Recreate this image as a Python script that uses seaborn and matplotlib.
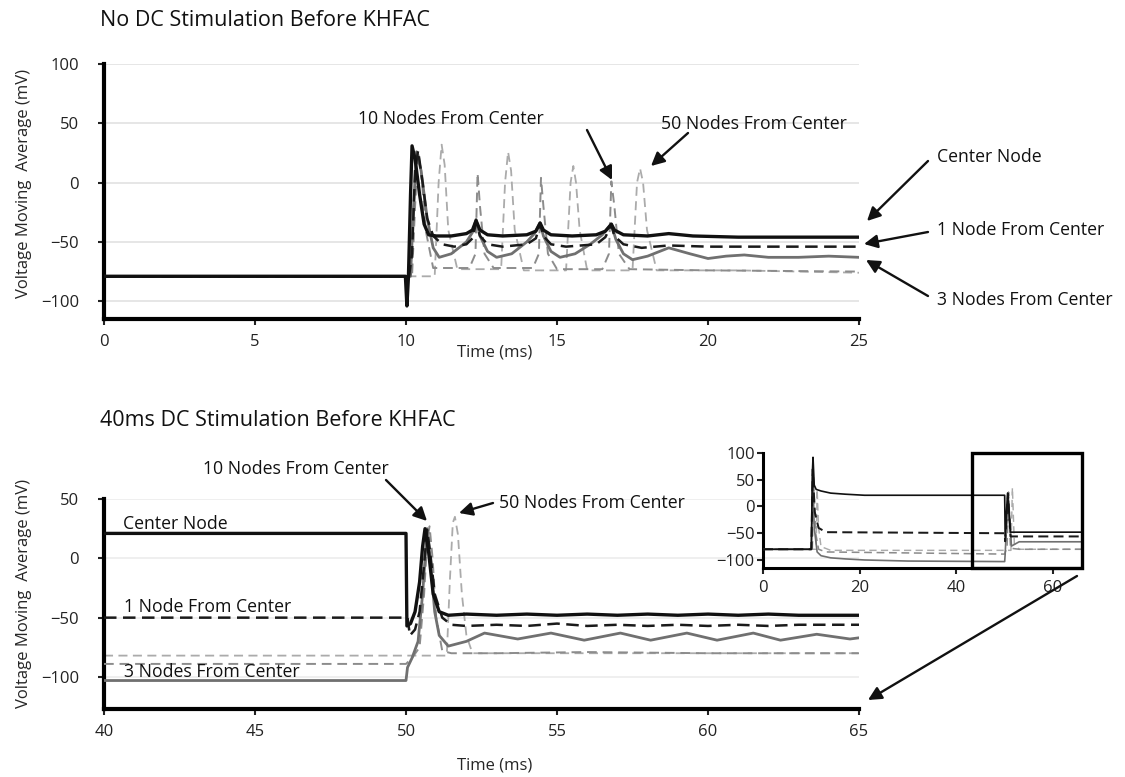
import numpy as np
import pandas as pd
import matplotlib
matplotlib.use("Agg")
import matplotlib.pyplot as plt
import seaborn as sns
from matplotlib.patches import Rectangle, FancyArrowPatch

# ---------------- data ----------------
# Top panel: no DC stimulation before KHFAC
center_t = [0, 9.98, 10.03, 10.08, 10.15, 10.2, 10.3, 10.45, 10.6, 10.75, 11.0, 11.5, 12.0, 12.2, 12.32, 12.45, 12.7, 13.2, 14.0, 14.3, 14.44, 14.55, 14.8, 15.5, 16.3, 16.6, 16.8, 16.9, 17.2, 18.0, 18.7, 19.5, 21, 23, 25]
center_v = [-79, -79, -104, -80, -10, 31, 20, -10, -35, -44, -45, -45, -43, -40, -32, -40, -44, -45, -44, -41, -34, -40, -44, -45, -44, -41, -35, -40, -44, -45, -43, -45, -46, -46, -46]

one_t = [0, 10.1, 10.2, 10.3, 10.4, 10.55, 10.7, 10.9, 11.2, 11.6, 12.0, 12.2, 12.32, 12.45, 12.7, 13.2, 14.0, 14.3, 14.44, 14.55, 14.8, 15.3, 16.3, 16.6, 16.8, 16.9, 17.2, 17.8, 18.7, 20, 22, 25]
one_v = [-79, -79, -60, 10, 27, 0, -30, -45, -52, -54, -52, -47, -34, -45, -52, -54, -52, -47, -35, -45, -52, -54, -52, -46, -36, -45, -52, -55, -53, -54, -54, -54]

three_t = [0, 10.15, 10.25, 10.35, 10.5, 10.7, 10.9, 11.1, 11.5, 12.0, 12.2, 12.32, 12.45, 12.7, 13.0, 13.5, 14.0, 14.25, 14.44, 14.55, 14.8, 15.1, 15.6, 16.1, 16.5, 16.8, 16.95, 17.2, 17.5, 18.0, 18.7, 19.4, 20.0, 20.6, 21.2, 22.0, 23.0, 24.0, 25]
three_v = [-79, -79, -20, 26, 10, -30, -55, -63, -60, -50, -42, -31, -45, -58, -63, -60, -50, -43, -34, -45, -58, -63, -60, -52, -44, -35, -48, -60, -65, -62, -55, -60, -64, -62, -61, -63, -63, -62, -63]

ten_t = [0, 10.2, 10.3, 10.4, 10.5, 10.65, 10.9, 12.1, 12.3, 12.37, 12.45, 12.6, 12.9, 14.2, 14.4, 14.47, 14.55, 14.7, 15.0, 16.5, 16.72, 16.8, 16.9, 17.05, 17.4, 20, 25]
ten_v = [-79, -79, -20, 26, 10, -40, -72, -72, -60, 8, -20, -60, -72, -72, -60, 4, -20, -60, -73, -73, -60, 1, -20, -60, -73, -74, -75]

fifty_t = [0, 10.95, 11.08, 11.18, 11.28, 11.4, 11.7, 13.15, 13.28, 13.38, 13.48, 13.6, 13.9, 15.3, 15.45, 15.54, 15.63, 15.75, 16.0, 17.5, 17.65, 17.75, 17.85, 17.98, 18.3, 21, 25]
fifty_v = [-79, -79, 0, 32, 15, -40, -73, -73, 0, 26, 10, -40, -74, -74, 0, 14, 0, -40, -74, -74, 0, 12, 0, -40, -74, -74, -76]

# Bottom panel: 40 ms DC stimulation before KHFAC
b_center_t = [40, 50.0, 50.03, 50.15, 50.3, 50.45, 50.55, 50.63, 50.75, 50.9, 51.1, 51.4, 52, 53, 54, 55, 56, 57, 58, 59, 60, 61, 62, 63, 64, 65]
b_center_v = [21, 21, -57, -55, -45, -20, 10, 25, 5, -30, -45, -48, -47, -48, -47, -48, -47, -48, -47, -48, -47, -48, -47, -48, -48, -48]

b_one_t = [40, 50.05, 50.13, 50.3, 50.45, 50.6, 50.7, 50.8, 50.95, 51.2, 51.5, 52, 53, 54, 55, 56, 57, 58, 59, 60, 61, 62, 63, 64, 65]
b_one_v = [-50, -50, -65, -60, -45, -5, 24, 5, -30, -50, -56, -57, -56, -57, -55, -57, -56, -57, -56, -57, -56, -57, -56, -56, -56]

b_three_t = [40, 50.0, 50.05, 50.2, 50.4, 50.55, 50.7, 50.8, 50.95, 51.1, 51.4, 52.0, 52.6, 53.15, 53.7, 54.25, 54.8, 55.35, 55.9, 56.5, 57.1, 57.6, 58.1, 58.7, 59.3, 59.8, 60.3, 60.9, 61.5, 61.95, 62.4, 63.0, 63.6, 64.15, 64.7, 65]
b_three_v = [-103, -103, -92, -84, -70, -30, 25, 0, -45, -65, -74, -70, -63, -65.5, -68, -65.5, -63, -66, -69, -66, -63, -66, -69, -66, -63, -66, -69, -66, -63, -66, -69, -66.5, -64, -66, -68, -67]

b_ten_t = [40, 50.0, 50.2, 50.45, 50.6, 50.7, 50.78, 50.88, 51.0, 51.2, 51.5, 53, 56, 60, 65]
b_ten_v = [-89, -89, -84, -75, -30, 15, 27, 0, -50, -78, -80, -80, -79, -80, -80]

b_fifty_t = [40, 51.35, 51.45, 51.55, 51.62, 51.72, 51.85, 52.0, 52.2, 55, 60, 65]
b_fifty_v = [-82, -82, -20, 30, 35, 20, -30, -65, -80, -80, -80, -80]

# Inset: full 0-66 ms trace of the DC case
i_center_t = [0, 10, 10.2, 10.35, 10.6, 11, 12, 14, 17, 21, 50, 50.1, 50.6, 51.2, 53, 66]
i_center_v = [-80, -80, 60, 92, 40, 32, 29, 25, 23, 21, 21, -55, 25, -48, -48, -48]
i_one_t = [0, 10, 10.3, 10.7, 11.5, 13, 50, 50.1, 50.7, 51.2, 53, 66]
i_one_v = [-80, -80, 70, -10, -40, -48, -50, -65, 24, -56, -56, -56]
i_three_t = [0, 10, 10.3, 10.6, 11.2, 12, 14, 17, 21, 30, 50, 50.1, 50.7, 51.4, 53, 66]
i_three_v = [-80, -80, 60, -40, -85, -92, -96, -98, -100, -102, -103, -90, 25, -74, -66, -66]
i_ten_t = [0, 10.2, 10.5, 10.9, 11.5, 13, 50, 50.5, 50.8, 51.2, 53, 66]
i_ten_v = [-80, -80, 40, -50, -80, -85, -89, -75, 27, -78, -80, -80]
i_fifty_t = [0, 11, 11.2, 11.5, 12, 14, 51.3, 51.6, 52, 53, 66]
i_fifty_v = [-80, -80, 32, -40, -75, -82, -82, 35, -70, -80, -80]

top_xticks = [0, 5, 10, 15, 20, 25]
top_yticks = [100, 50, 0, -50, -100]
bot_xticks = [40, 45, 50, 55, 60, 65]
bot_yticks = [50, 0, -50, -100]
ins_xticks = [0, 20, 40, 60]
ins_yticks = [100, 50, 0, -50, -100]

title_top = "No DC Stimulation Before KHFAC"
title_bot = "40ms DC Stimulation Before KHFAC"
ylabel = "Voltage Moving  Average (mV)"
xlabel = "Time (ms)"

# ---------------- style ----------------
sns.set_theme(style="white")
plt.rcParams["font.family"] = ["Open Sans", "DejaVu Sans"]
plt.rcParams["axes.unicode_minus"] = True

W, H = 1125, 777
fig = plt.figure(figsize=(W / 100, H / 100), dpi=100)


def fr(x, y):
    return (x / W, 1 - y / H)


def ax_rect(x0, y0, x1, y1):
    return [x0 / W, 1 - y1 / H, (x1 - x0) / W, (y1 - y0) / H]


STYLES = {
    "center": dict(color="#111111", linestyle="-", linewidth=2.4, zorder=6),
    "one": dict(color="#1a1a1a", linestyle=(0, (5, 2.6)), linewidth=1.8, zorder=5),
    "three": dict(color="#707070", linestyle="-", linewidth=2.0, zorder=4),
    "ten": dict(color="#8c8c8c", linestyle=(0, (5, 3)), linewidth=1.4, zorder=3),
    "fifty": dict(color="#ababab", linestyle=(0, (5, 3)), linewidth=1.3, zorder=2),
}


def trace(ax, t, v, key, lwscale=1.0):
    st = dict(STYLES[key])
    st["linewidth"] = st["linewidth"] * lwscale
    df = pd.DataFrame({"t": t, "v": v})
    sns.lineplot(data=df, x="t", y="v", ax=ax, estimator=None, sort=False,
                 legend=False, **st)


def style_axes(ax, lw=3, ypad=14, xpad=7):
    sns.despine(ax=ax)
    ax.patch.set_alpha(0)
    for s in ["left", "bottom"]:
        ax.spines[s].set_linewidth(lw)
        ax.spines[s].set_color("black")
    ax.tick_params(axis="both", which="both", length=4, width=1.5,
                   direction="out", labelsize=12, colors="#222222",
                   left=True, bottom=True)
    ax.tick_params(axis="y", pad=ypad)
    ax.tick_params(axis="x", pad=xpad)
    ax.set_xlabel("")
    ax.set_ylabel("")


# ---------------- top panel ----------------
ax1 = fig.add_axes(ax_rect(104, 64, 859, 319))
for y in top_yticks:
    ax1.axhline(y, color="#e4e4e4", lw=1.3, zorder=0)
trace(ax1, fifty_t, fifty_v, "fifty")
trace(ax1, ten_t, ten_v, "ten")
trace(ax1, three_t, three_v, "three")
trace(ax1, one_t, one_v, "one")
trace(ax1, center_t, center_v, "center")
ax1.set_xlim(0, 25)
ax1.set_ylim(-115, 100)
ax1.set_xticks(top_xticks)
ax1.set_yticks(top_yticks)
style_axes(ax1)
ax1.spines["left"].set_bounds(-115, 100)
ax1.set_xlabel(xlabel, fontsize=12)
ax1.set_ylabel(ylabel, fontsize=12)
ax1.xaxis.set_label_coords(0.518, -0.13)
ax1.xaxis.label.set_va("center")
ax1.yaxis.set_label_coords(-0.106, 0.533)
ax1.yaxis.label.set_va("center")

# ---------------- bottom panel ----------------
ax2 = fig.add_axes(ax_rect(104, 499, 859, 709))
for y in bot_yticks:
    ax2.axhline(y, color="#ececec", lw=1.2, zorder=0)
trace(ax2, b_fifty_t, b_fifty_v, "fifty")
trace(ax2, b_ten_t, b_ten_v, "ten")
trace(ax2, b_three_t, b_three_v, "three")
trace(ax2, b_one_t, b_one_v, "one")
trace(ax2, b_center_t, b_center_v, "center")
ax2.set_xlim(40, 65)
ax2.set_ylim(-127, 50)
ax2.set_xticks(bot_xticks)
ax2.set_yticks(bot_yticks)
style_axes(ax2)
ax2.set_xlabel(xlabel, fontsize=12)
ax2.set_ylabel(ylabel, fontsize=12)
ax2.xaxis.set_label_coords(0.518, -0.267)
ax2.xaxis.label.set_va("center")
ax2.yaxis.set_label_coords(-0.106, 0.548)
ax2.yaxis.label.set_va("center")

# ---------------- inset ----------------
ax3 = fig.add_axes(ax_rect(763, 453, 1082, 568))
trace(ax3, i_fifty_t, i_fifty_v, "fifty", 0.8)
trace(ax3, i_ten_t, i_ten_v, "ten", 0.8)
trace(ax3, i_three_t, i_three_v, "three", 0.6)
trace(ax3, i_one_t, i_one_v, "one", 0.8)
trace(ax3, i_center_t, i_center_v, "center", 0.5)
ax3.set_xlim(0, 66)
ax3.set_ylim(-115, 100)
ax3.set_xticks(ins_xticks)
ax3.set_yticks(ins_yticks)
style_axes(ax3, lw=2.2, ypad=2, xpad=5)
ax3.add_patch(Rectangle((43.2, -115), 66 - 43.2, 215, fill=False,
                        lw=2.4, edgecolor="black", clip_on=False, zorder=10))

# ---------------- titles & annotations ----------------
fig.text(*fr(100, 20), title_top, fontsize=15.5, ha="left", va="center", color="#111111")
fig.text(*fr(100, 420), title_bot, fontsize=15.5, ha="left", va="center", color="#111111")

TXT = dict(fontsize=12.7, ha="left", va="center", color="#111111")
fig.text(*fr(358, 119), "10 Nodes From Center", **TXT)
fig.text(*fr(661, 124), "50 Nodes From Center", **TXT)
fig.text(*fr(937, 157), "Center Node", **TXT)
fig.text(*fr(937, 230), "1 Node From Center", **TXT)
fig.text(*fr(937, 300), "3 Nodes From Center", **TXT)

fig.text(*fr(203, 469), "10 Nodes From Center", **TXT)
fig.text(*fr(499, 503), "50 Nodes From Center", **TXT)
fig.text(*fr(123, 524), "Center Node", **TXT)
fig.text(*fr(124, 607), "1 Node From Center", **TXT)
fig.text(*fr(124, 672), "3 Nodes From Center", **TXT)


def arrow(tail, head):
    fig.add_artist(FancyArrowPatch(fr(*tail), fr(*head),
                                   transform=fig.transFigure,
                                   arrowstyle="-|>", lw=1.7, color="#111111",
                                   mutation_scale=20, shrinkA=0, shrinkB=0,
                                   zorder=20))


arrow((587, 130), (612, 180))
arrow((688, 133), (651, 166))
arrow((928, 161), (867, 221))
arrow((928, 232), (864, 244))
arrow((928, 296), (866, 260))
arrow((386, 480), (427, 521))
arrow((493, 503), (459, 513))
arrow((1077, 576), (868, 700))

fig.savefig("out.png", dpi=100)
